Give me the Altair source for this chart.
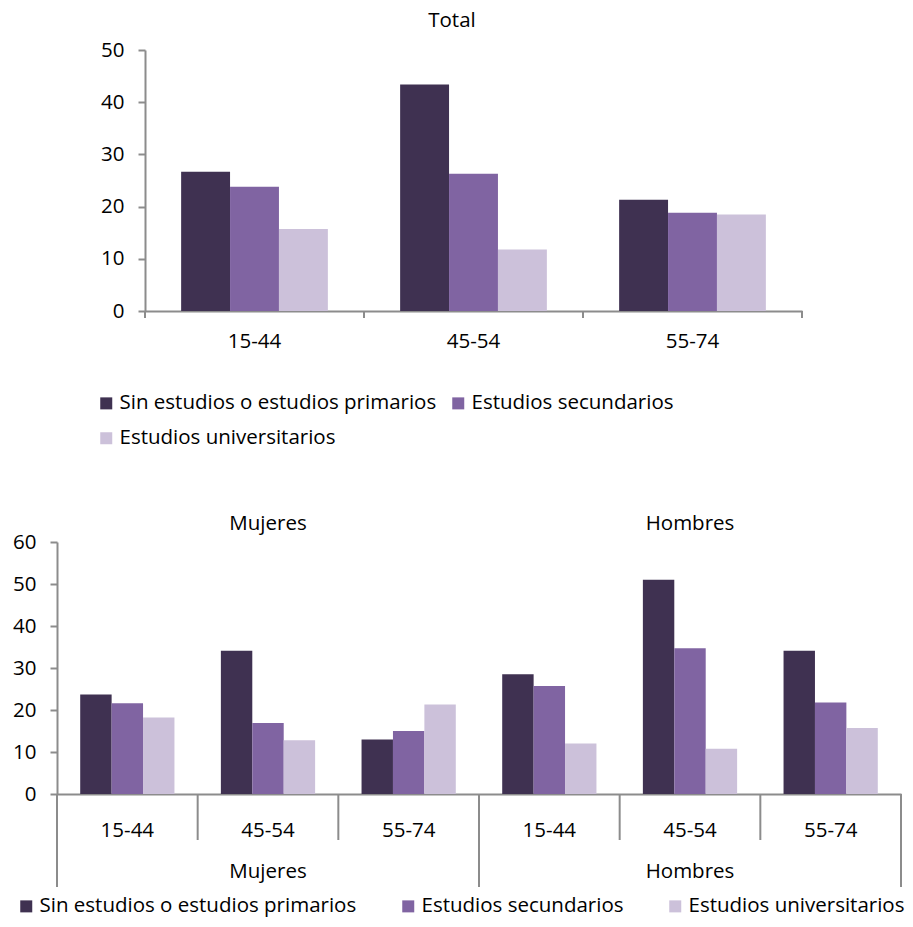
import altair as alt
import pandas as pd

# ---------------- data ----------------
ages = ["15-44", "45-54", "55-74"]
levels = ["Sin estudios o estudios primarios", "Estudios secundarios", "Estudios universitarios"]
colors = ["#3F3151", "#8064A2", "#CCC1DA"]

total_sin = [26.7, 43.4, 21.3]
total_sec = [23.8, 26.3, 18.8]
total_uni = [15.7, 11.8, 18.5]

sexes = ["Mujeres", "Hombres"]
mujeres_sin = [23.7, 34.1, 13.0]
mujeres_sec = [21.6, 16.9, 15.0]
mujeres_uni = [18.2, 12.8, 21.3]
hombres_sin = [28.5, 51.0, 34.1]
hombres_sec = [25.7, 34.7, 21.8]
hombres_uni = [12.0, 10.8, 15.7]

FONT = "Open Sans"
FS = 20.5
AXIS_COLOR = "#8C8C8C"
PAD_IN, PAD_OUT = 0.33, 0.165

# ---------------- tables ----------------
top_rows = []
for lev, vals in zip(levels, [total_sin, total_sec, total_uni]):
    for a, v in zip(ages, vals):
        top_rows.append({"age": a, "level": lev, "value": v})
top_df = pd.DataFrame(top_rows)
top_ages_df = pd.DataFrame({"age": ages})
top_last_df = pd.DataFrame({"age": [ages[-1]]})

bot_rows = []
series = {
    "Mujeres": [mujeres_sin, mujeres_sec, mujeres_uni],
    "Hombres": [hombres_sin, hombres_sec, hombres_uni],
}
keys = [f"{s}|{a}" for s in sexes for a in ages]
for s in sexes:
    for lev, vals in zip(levels, series[s]):
        for a, v in zip(ages, vals):
            bot_rows.append({"key": f"{s}|{a}", "sex": s, "age": a, "level": lev, "value": v})
bot_df = pd.DataFrame(bot_rows)

keys_df = pd.DataFrame({"key": keys})
start_df = pd.DataFrame({"key": [f"{s}|{ages[0]}" for s in sexes]})
end_df = pd.DataFrame({"key": [f"{sexes[-1]}|{ages[-1]}"]})
mid_df = pd.DataFrame({"key": [f"{s}|{ages[1]}" for s in sexes], "sex": sexes})

color_scale = alt.Scale(domain=levels, range=colors)

# ---------------- top chart ----------------
TOP_W, TOP_RANGE, TOP_H = 668, 657, 261
TOP_GAP = PAD_IN * TOP_RANGE / len(ages) / 2

def top_scale():
    return alt.Scale(type="band", domain=ages, range=[0, TOP_RANGE],
                     paddingInner=PAD_IN, paddingOuter=PAD_OUT)

top_bars = alt.Chart(top_df).mark_bar().encode(
    x=alt.X("age:N", sort=ages, title=None, scale=top_scale(),
            axis=alt.Axis(ticks=False, labelAngle=0, labelPadding=20,
                          domainColor=AXIS_COLOR, domainWidth=2)),
    xOffset=alt.XOffset("level:N", sort=levels, scale=alt.Scale(paddingInner=0, paddingOuter=0)),
    y=alt.Y("value:Q", title=None,
            scale=alt.Scale(domain=[0, 50], nice=False),
            axis=alt.Axis(values=[0, 10, 20, 30, 40, 50], tickSize=7, labelPadding=14, grid=False,
                          domainColor=AXIS_COLOR, tickColor=AXIS_COLOR, domainWidth=2, tickWidth=2)),
    color=alt.Color("level:N", sort=levels, scale=color_scale, title=None,
                    legend=alt.Legend(orient="none", legendX=-49, legendY=343, direction="horizontal",
                                      columns=2, columnPadding=11, rowPadding=14,
                                      symbolType="square", symbolSize=144, symbolStrokeWidth=0,
                                      labelOffset=3, labelFontSize=FS, labelFont=FONT,
                                      labelColor="#000000", labelLimit=0)),
)
top_ticks = alt.Chart(top_ages_df).mark_rule(color=AXIS_COLOR, strokeWidth=2, xOffset=-TOP_GAP).encode(
    x=alt.X("age:N", sort=ages, bandPosition=0, scale=top_scale()),
    y=alt.value(TOP_H), y2=alt.value(TOP_H + 7),
)
top_end = alt.Chart(top_last_df).mark_rule(color=AXIS_COLOR, strokeWidth=2, xOffset=TOP_GAP).encode(
    x=alt.X("age:N", sort=ages, bandPosition=1, scale=top_scale()),
    y=alt.value(TOP_H), y2=alt.value(TOP_H + 7),
)

top = alt.layer(top_bars, top_ticks, top_end).properties(
    width=TOP_W, height=TOP_H,
    title=alt.TitleParams("Total", fontSize=FS, font=FONT, fontWeight="normal", color="#000000",
                          offset=9, dx=-27),
)

# ---------------- bottom chart ----------------
BOT_W, BOT_H = 844, 252
BOT_GAP = PAD_IN * BOT_W / len(keys) / 2

def bot_scale():
    return alt.Scale(type="band", domain=keys, paddingInner=PAD_IN, paddingOuter=PAD_OUT)

bars = alt.Chart(bot_df).mark_bar().encode(
    x=alt.X("key:N", sort=keys, title=None, scale=bot_scale(),
            axis=alt.Axis(ticks=False, labelAngle=0, labelPadding=26,
                          labelExpr="split(datum.label, '|')[1]",
                          domainColor=AXIS_COLOR, domainWidth=2)),
    xOffset=alt.XOffset("level:N", sort=levels, scale=alt.Scale(paddingInner=0, paddingOuter=0)),
    y=alt.Y("value:Q", title=None,
            scale=alt.Scale(domain=[0, 60], nice=False),
            axis=alt.Axis(values=[0, 10, 20, 30, 40, 50, 60], tickSize=7, labelPadding=14, grid=False,
                          domainColor=AXIS_COLOR, tickColor=AXIS_COLOR, domainWidth=2, tickWidth=2)),
    color=alt.Color("level:N", sort=levels, scale=color_scale, title=None,
                    legend=alt.Legend(orient="none", legendX=-41, legendY=354, direction="horizontal",
                                      columns=3, columnPadding=41,
                                      symbolType="square", symbolSize=144, symbolStrokeWidth=0,
                                      labelOffset=3, labelFontSize=FS, labelFont=FONT,
                                      labelColor="#000000", labelLimit=0)),
)

short_sep = alt.Chart(keys_df).mark_rule(color=AXIS_COLOR, strokeWidth=2, xOffset=-BOT_GAP).encode(
    x=alt.X("key:N", sort=keys, bandPosition=0, scale=bot_scale()),
    y=alt.value(BOT_H), y2=alt.value(BOT_H + 46),
)
long_start = alt.Chart(start_df).mark_rule(color=AXIS_COLOR, strokeWidth=2, xOffset=-BOT_GAP).encode(
    x=alt.X("key:N", sort=keys, bandPosition=0, scale=bot_scale()),
    y=alt.value(BOT_H), y2=alt.value(BOT_H + 93),
)
long_end = alt.Chart(end_df).mark_rule(color=AXIS_COLOR, strokeWidth=2, xOffset=BOT_GAP).encode(
    x=alt.X("key:N", sort=keys, bandPosition=1, scale=bot_scale()),
    y=alt.value(BOT_H), y2=alt.value(BOT_H + 93),
)
group_labels = alt.Chart(mid_df).mark_text(fontSize=FS, font=FONT, color="#000000", baseline="middle").encode(
    x=alt.X("key:N", sort=keys, bandPosition=0.5, scale=bot_scale()),
    y=alt.value(BOT_H + 78),
    text="sex:N",
)
group_titles = alt.Chart(mid_df).mark_text(fontSize=FS, font=FONT, color="#000000", baseline="middle").encode(
    x=alt.X("key:N", sort=keys, bandPosition=0.5, scale=bot_scale()),
    y=alt.value(-18),
    text="sex:N",
)

bottom = alt.layer(bars, short_sep, long_start, long_end, group_labels, group_titles).properties(
    width=BOT_W, height=BOT_H
)

chart = alt.vconcat(top, bottom, spacing=231, center=True, bounds="flush").resolve_scale(
    x="independent", xOffset="independent", y="independent"
).resolve_legend(
    color="independent"
).configure(
    padding={"left": 4, "top": 2, "right": 0, "bottom": 0},
).configure_view(
    stroke=None
).configure_axis(
    labelFont=FONT, labelFontSize=FS, labelColor="#000000"
)

chart.save("out.html", embed_options={"renderer": "svg", "actions": False})
